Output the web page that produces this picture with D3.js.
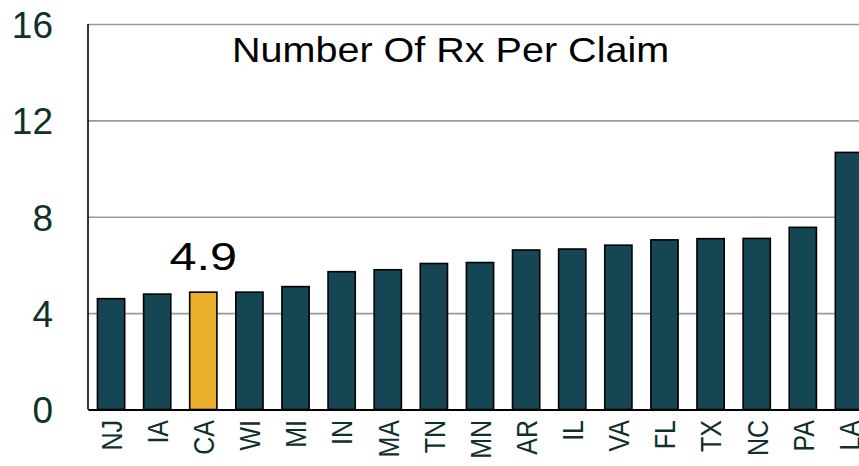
<!DOCTYPE html>
<html>
<head>
<meta charset="utf-8">
<script src="https://cdn.jsdelivr.net/npm/d3@7"></script>
<style>
  body { margin: 0; background: #fff; overflow: hidden; }
  svg { display: block; font-family: "Liberation Sans", Arial, sans-serif; }
</style>
</head>
<body>
<svg id="chart" width="859" height="466"></svg>
<script>
// data
const states = ['NJ', 'IA', 'CA', 'WI', 'MI', 'IN', 'MA', 'TN', 'MN', 'AR', 'IL', 'VA', 'FL', 'TX', 'NC', 'PA', 'LA']
const rxPerClaim = [4.6, 4.79, 4.87, 4.87, 5.1, 5.72, 5.8, 6.06, 6.1, 6.62, 6.66, 6.82, 7.04, 7.09, 7.1, 7.56, 10.67]
const yTicks = [0, 4, 8, 12, 16]
const highlight = 'CA'
const highlightLabel = '4.9'
const title = 'Number Of Rx Per Claim'

const svg = d3.select('#chart')
const plotLeft = 88, plotRight = 872, plotTop = 24, plotBottom = 409.5

const x = d3.scaleBand()
    .domain(states)
    .range([plotLeft, plotRight])
    .paddingInner(0.41)
    .paddingOuter(0.205)

const y = d3.scaleLinear()
    .domain([0, 16])
    .range([plotBottom, plotTop])

// gridlines + y tick labels
const yAxis = svg.append('g')
    .attr('transform', `translate(${plotLeft},0)`)
    .call(d3.axisLeft(y).tickValues(yTicks).tickSizeInner(-(plotRight - plotLeft)).tickSizeOuter(0).tickPadding(35))
yAxis.select('.domain').remove()
yAxis.selectAll('.tick line')
    .attr('stroke', '#9a9a9a')
    .attr('stroke-width', 1.6)
yAxis.selectAll('.tick text')
    .attr('fill', '#10302a')
    .attr('font-size', 37)
    .attr('dy', '0.36em')
    .attr('font-family', '"Liberation Sans", Arial, sans-serif')

// bars
svg.selectAll('rect.bar')
    .data(states)
    .enter().append('rect')
    .attr('class', 'bar')
    .attr('x', (d) => x(d))
    .attr('width', x.bandwidth())
    .attr('y', (d, i) => y(rxPerClaim[i]))
    .attr('height', (d, i) => y(0) - y(rxPerClaim[i]))
    .attr('fill', (d) => d === highlight ? '#ebb02b' : '#144753')
    .attr('stroke', '#000')
    .attr('stroke-width', 1.6)

// axis lines
svg.append('line')
    .attr('x1', plotLeft).attr('x2', plotLeft)
    .attr('y1', y(16)).attr('y2', y(0))
    .attr('stroke', '#000').attr('stroke-width', 1.6)

const xAxis = svg.append('g')
    .attr('transform', `translate(0,${plotBottom})`)
    .call(d3.axisBottom(x).tickSize(0).tickPadding(0))
xAxis.select('.domain')
    .attr('stroke', '#000')
    .attr('stroke-width', 2.2)
xAxis.selectAll('.tick text')
    .attr('fill', '#10302a')
    .attr('font-size', 25)
    .attr('font-family', '"Liberation Sans", Arial, sans-serif')
    .attr('text-anchor', 'end')
    .attr('x', 0)
    .attr('y', 0)
    .attr('dy', '0.36em')
    .attr('transform', 'translate(0,10.5) scale(1.2,1) rotate(-90)')

// value label for highlighted bar
const hiIdx = states.indexOf(highlight)
svg.append('text')
    .attr('transform', `translate(${x(highlight) + x.bandwidth() / 2},${y(rxPerClaim[hiIdx]) - 22}) scale(1.28,1)`)
    .attr('text-anchor', 'middle')
    .attr('font-size', 38)
    .attr('fill', '#000')
    .text(highlightLabel)

// title
svg.append('text')
    .attr('transform', 'translate(232,61.5) scale(1.13,1)')
    .attr('font-size', 35)
    .attr('fill', '#000')
    .text(title)
</script>
</body>
</html>
